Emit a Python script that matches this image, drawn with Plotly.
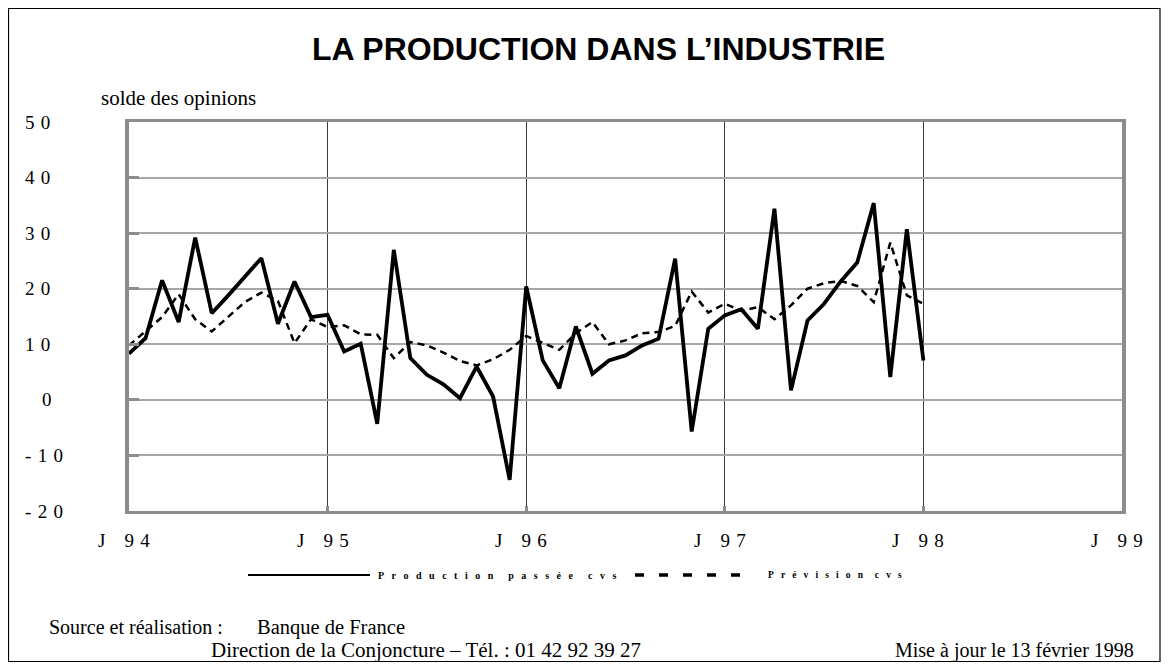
import plotly.graph_objects as go

# ---- data (monthly, Jan 1994 .. Jan 1998) ----
months = list(range(49))  # 0 = Jan 94
production = [8.3, 11.1, 21.5, 14.0, 29.2, 15.6, 18.8, 22.2, 25.5, 13.7, 21.3, 14.9,
              15.3, 8.7, 10.1, -4.3, 27.0, 7.5, 4.5, 2.8, 0.3, 6.0, 0.6, -14.4,
              20.4, 7.1, 2.1, 13.2, 4.7, 7.1, 8.0, 9.8, 11.0, 25.4, -5.7, 12.8,
              15.2, 16.3, 12.8, 34.4, 1.7, 14.3, 17.3, 21.3, 24.7, 35.4, 4.1, 30.7,
              7.1]
prevision = [9.8, 12.3, 14.9, 19.0, 14.5, 12.3, 15.0, 17.6, 19.3, 17.8, 10.2, 14.5,
             13.1, 13.4, 11.8, 11.7, 7.5, 10.4, 9.8, 8.5, 7.0, 6.2, 7.3, 9.0,
             11.5, 10.3, 9.0, 12.0, 14.0, 10.0, 10.7, 12.0, 12.2, 13.3, 19.5, 15.7,
             17.3, 16.0, 16.7, 14.5, 17.0, 20.0, 21.0, 21.4, 20.5, 17.6, 28.3, 18.8,
             17.3]
x_tickvals = [0, 12, 24, 36, 48, 60]
x_ticktext = ["J 9 4", "J 9 5", "J 9 6", "J 9 7", "J 9 8", "J 9 9"]
y_tickvals = [-20, -10, 0, 10, 20, 30, 40, 50]
y_ticktext = ["- 2 0", "- 1 0", "0", "1 0", "2 0", "3 0", "4 0", "5 0"]

serif = "Liberation Serif, Times New Roman, serif"
sans = "Liberation Sans, Arial, sans-serif"
NB = "&nbsp;"
HAIR = "\u200a"
X_MAX = 60


def spaced_x(label):
    j, d1, d2 = label.split(" ")
    return j + NB * 4 + d1 + NB + HAIR + d2


def spaced_y(label):
    return (NB + HAIR).join(label.split(" "))


def spaced_legend(text, gap=3, wgap=6):
    words = text.split(" ")
    return (NB * wgap).join((NB * gap).join(list(w)) for w in words)


fig = go.Figure()
fig.add_trace(go.Scatter(x=months, y=prevision, mode="lines",
                         line=dict(color="black", width=2.5, dash="7px,5px"),
                         name="Prévision cvs", showlegend=False))
fig.add_trace(go.Scatter(x=months, y=production, mode="lines",
                         line=dict(color="black", width=3.8),
                         name="Production passée cvs", showlegend=False))

# page has an 8px body margin: plot area in screen px = x 129..1122, y 122..511
W, H = 1153, 654
fig.update_layout(
    width=W, height=H,
    margin=dict(l=121, r=8 + W - 1122, t=114, b=8 + H - 511),
    paper_bgcolor="white", plot_bgcolor="white",
    xaxis=dict(range=[0, X_MAX], tickvals=x_tickvals, showticklabels=False,
               showgrid=True, gridcolor="#3a3a3a", gridwidth=1,
               showline=True, linecolor="#8c8c8c", linewidth=3, mirror=True,
               ticks="inside", ticklen=5, tickwidth=3, tickcolor="#8c8c8c",
               zeroline=False),
    yaxis=dict(range=[-20, 50], tickvals=y_tickvals, showticklabels=False,
               showgrid=True, gridcolor="#a6a6a6", gridwidth=2,
               showline=True, linecolor="#8c8c8c", linewidth=4, mirror=True,
               ticks="inside", ticklen=10, tickwidth=3, tickcolor="#8c8c8c",
               zeroline=False),
)


def px_x(px):
    return (px - 129) / 993.0


def px_y(py):
    return (511 - py) / 389.0


shapes = [
    dict(type="rect", xref="paper", yref="paper", x0=px_x(8.5), x1=px_x(1160),
         y0=px_y(661.5), y1=px_y(8.5), line=dict(color="black", width=1.2)),
    dict(type="line", xref="paper", yref="paper", x0=px_x(248), x1=px_x(370),
         y0=px_y(575), y1=px_y(575), line=dict(color="black", width=2)),
    dict(type="line", xref="paper", yref="paper", x0=px_x(635), x1=px_x(752),
         y0=px_y(575), y1=px_y(575), line=dict(color="black", width=3.5, dash="9px,15px")),
]
fig.update_layout(shapes=shapes)

annots = [
    dict(text="<b>LA PRODUCTION DANS L\u2019INDUSTRIE</b>", xref="paper", x=px_x(598),
         yref="paper", y=px_y(49), xanchor="center", yanchor="middle",
         font=dict(family=sans, size=32, color="black")),
    dict(text="solde des opinions", xref="paper", x=px_x(99), yref="paper", y=px_y(98),
         xanchor="left", yanchor="middle", font=dict(family=serif, size=21, color="black")),
    dict(text="<b>" + spaced_legend("Production passée cvs") + "</b>", xref="paper", x=px_x(376),
         yref="paper", y=px_y(575), xanchor="left", yanchor="middle",
         font=dict(family=serif, size=10, color="black")),
    dict(text="<b>" + spaced_legend("Prévision cvs", gap=3, wgap=5) + "</b>", xref="paper",
         x=px_x(766), yref="paper", y=px_y(575), xanchor="left", yanchor="middle",
         font=dict(family=serif, size=9.5, color="black")),
    dict(text="Source et réalisation :", xref="paper", x=px_x(47), yref="paper", y=px_y(627),
         xanchor="left", yanchor="middle", font=dict(family=serif, size=20, color="black")),
    dict(text="Banque de France", xref="paper", x=px_x(255), yref="paper", y=px_y(627),
         xanchor="left", yanchor="middle", font=dict(family=serif, size=20.5, color="black")),
    dict(text="Direction de la Conjoncture \u2013 Tél. : 01 42 92 39 27", xref="paper", x=px_x(209),
         yref="paper", y=px_y(650), xanchor="left", yanchor="middle",
         font=dict(family=serif, size=21, color="black")),
    dict(text="Mise à jour le 13 février 1998", xref="paper", x=px_x(1136), yref="paper",
         y=px_y(650), xanchor="right", yanchor="middle",
         font=dict(family=serif, size=20, color="black")),
]
# x tick labels (placed in paper coords so the J94 label at the axis edge is not clipped)
for v, t in zip(x_tickvals, x_ticktext):
    annots.append(dict(text=spaced_x(t), xref="paper", x=(v - 0.3) / X_MAX, yref="paper",
                       y=px_y(540), xanchor="center", yanchor="middle",
                       font=dict(family=serif, size=19, color="black")))
# y tick labels
for v, t in zip(y_tickvals, y_ticktext):
    annots.append(dict(text=spaced_y(t), xref="paper", x=px_x(40 if t == "0" else 23),
                       yref="y", y=v, xanchor="left", yanchor="middle",
                       font=dict(family=serif, size=19, color="black")))
for a in annots:
    a.update(showarrow=False)
fig.update_layout(annotations=annots)

fig.write_html("out.html")
